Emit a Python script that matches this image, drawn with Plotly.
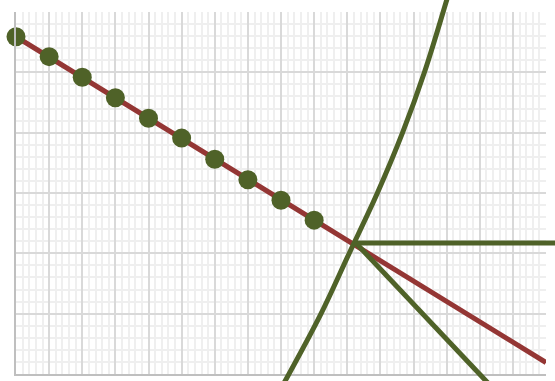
import plotly.graph_objs as go

# measured points (green markers) and the fitted red line
pts_x = [0, 1, 2, 3, 4, 5, 6, 7, 8, 9]
pts_y = [5.59, 5.26, 4.92, 4.58, 4.24, 3.91, 3.56, 3.22, 2.88, 2.55]
fit_x = [0, 16]
fit_y = [5.59, 0.19]

# green construction lines from the crossing point
flat_x = [10.26, 16.4]
flat_y = [2.17, 2.17]
drop_x = [10.26, 14.25]
drop_y = [2.17, -0.15]
curve_x = [8.09, 9.19, 10.05, 10.91, 11.67, 12.33, 13.03]
curve_y = [-0.15, 0.98, 1.99, 3.0, 4.0, 5.0, 6.25]

W, H = 555, 381
L, R, T, B = 16, 546, 12, 374
xmax, ymax = 16, 6

RED = "#943634"
GREEN = "#4F6228"

fig = go.Figure()
fig.add_scatter(x=fit_x, y=fit_y, mode='lines', line=dict(color=RED, width=5),
                xaxis='x', yaxis='y', showlegend=False, hoverinfo='skip')
fig.add_scatter(x=pts_x, y=pts_y, mode='markers', marker=dict(color=GREEN, size=19),
                cliponaxis=False, xaxis='x', yaxis='y', showlegend=False)

# green lines run past the plot border, so they sit on full-page axes
fig.add_scatter(x=flat_x, y=flat_y, mode='lines', line=dict(color=GREEN, width=5),
                xaxis='x2', yaxis='y2', showlegend=False, hoverinfo='skip')
fig.add_scatter(x=drop_x, y=drop_y, mode='lines', line=dict(color=GREEN, width=5),
                xaxis='x2', yaxis='y2', showlegend=False, hoverinfo='skip')
fig.add_scatter(x=curve_x, y=curve_y, mode='lines', line=dict(color=GREEN, width=5, shape='spline'),
                xaxis='x2', yaxis='y2', showlegend=False, hoverinfo='skip')

sx = (R - L) / xmax
sy = (B - T) / ymax

grid = dict(showgrid=True, gridcolor='#d9d9d9', gridwidth=2, zeroline=False,
            showticklabels=False, ticks='', dtick=1,
            minor=dict(dtick=0.2, showgrid=True, gridcolor='#efefef', gridwidth=2))

fig.update_layout(
    width=W, height=H, margin=dict(l=0, r=0, t=0, b=0),
    paper_bgcolor='white', plot_bgcolor='rgba(0,0,0,0)',
    xaxis=dict(domain=[L / W, R / W], range=[0, xmax], showline=True, linecolor='#bfbfbf',
               linewidth=2, **grid),
    yaxis=dict(domain=[(H - B) / H, (H - T) / H], range=[0, ymax], showline=True,
               linecolor='#bfbfbf', linewidth=2, **grid),
    xaxis2=dict(domain=[0, 1], anchor='y2', range=[-L / sx, xmax + (W - R) / sx], visible=False),
    yaxis2=dict(domain=[0, 1], anchor='x2', range=[-(H - B) / sy, ymax + T / sy], visible=False),
)

# drop the default page margin so the chart sits at the window corner
fig.write_html("out.html", config={'displayModeBar': False},
               post_script="document.body.style.margin='0';")
